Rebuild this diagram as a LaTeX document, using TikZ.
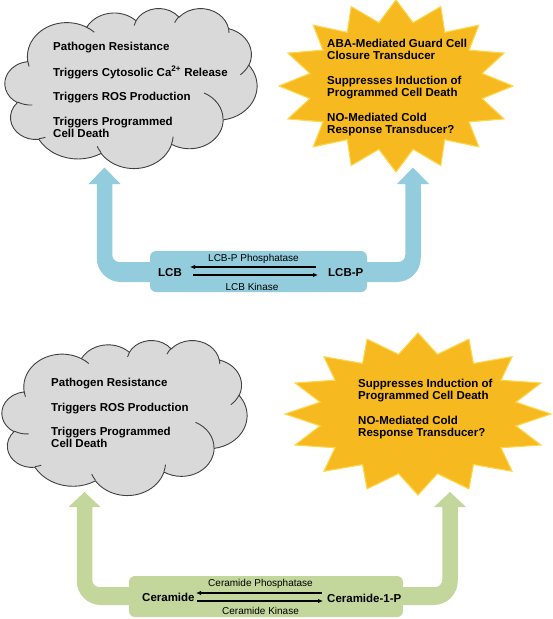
\documentclass[tikz,border=0pt]{standalone}
\usepackage{fontspec}
\setmainfont{Liberation Sans}
\usetikzlibrary{arrows.meta}
\definecolor{cloudfill}{HTML}{D9D9D9}
\definecolor{cloudline}{HTML}{404040}
\definecolor{starfill}{HTML}{F6B91F}
\definecolor{starline}{HTML}{FFD64A}
\definecolor{bluearrow}{HTML}{93CDDD}
\definecolor{greenarrow}{HTML}{C3D69B}

% PowerPoint-like cloud outline (43200 space / 100), angles converted from visual to parametric
\gdef\cloudmain{}
\foreach \Aw/\Ah/\As/\Ad in {67.53/91.90/-190.4875/123.7805, 53.33/72.67/-144.1024/89.9452,
  43.65/59.45/-145.8079/99.7230, 48.57/65.95/-130.9861/117.2417, 53.33/72.73/-78.7089/109.0269,
  67.75/92.20/-46.2673/130.2690, 57.85/78.67/0.6250/114.0333, 67.52/92.15/22.4516/115.1726,
  77.20/105.43/66.2426/75.7110, 43.60/59.18/-274.9421/146.7356, 43.45/59.45/-246.8285/152.5189}{%
  \pgfmathsetmacro\CAa{atan2(\Aw*sin(\As),\Ah*cos(\As))}%
  \pgfmathsetmacro\CAb{atan2(\Aw*sin(\As+\Ad),\Ah*cos(\As+\Ad))}%
  \pgfmathsetmacro\CAd{\CAb-\CAa}%
  \pgfmathsetmacro\CAd{ifthenelse(\Ad>0,ifthenelse(\CAd<0,\CAd+360,\CAd),ifthenelse(\CAd>0,\CAd-360,\CAd))}%
  \xdef\cloudmain{\cloudmain arc[start angle=\CAa, delta angle=\CAd, x radius=\Aw pt, y radius=\Ah pt]}%
}
\gdef\cloudinner{}
\foreach \Ax/\Ay/\Aw/\Ah/\As/\Ad in {46.93/261.77/43.45/59.45/86.7420/26.4295,
  69.28/348.99/43.60/59.18/73.6105/11.4475, 164.78/390.90/67.52/92.15/137.6242/14.0811,
  288.27/347.51/67.52/92.15/6.4533/15.9984, 341.29/229.54/57.85/78.67/-70.2924/70.9174,
  417.98/153.54/53.33/72.73/30.3180/27.7515, 383.24/54.26/48.57/65.95/-13.7443/14.8589,
  290.78/39.52/48.57/65.95/-149.1815/18.1954, 221.41/47.20/43.65/59.45/-163.4943/16.9591,
  140.00/51.92/67.53/91.90/-66.7070/12.3194, 41.27/157.89/67.53/91.90/157.6544/11.8582}{%
  \pgfmathsetmacro\CAa{atan2(\Aw*sin(\As),\Ah*cos(\As))}%
  \pgfmathsetmacro\CAb{atan2(\Aw*sin(\As+\Ad),\Ah*cos(\As+\Ad))}%
  \pgfmathsetmacro\CAd{\CAb-\CAa}%
  \pgfmathsetmacro\CAd{ifthenelse(\Ad>0,ifthenelse(\CAd<0,\CAd+360,\CAd),ifthenelse(\CAd>0,\CAd-360,\CAd))}%
  \xdef\cloudinner{\cloudinner (\Ax,\Ay) arc[start angle=\CAa, delta angle=\CAd, x radius=\Aw pt, y radius=\Ah pt]}%
}

% U-shaped block arrow: color, left x, right x, tip y, head base y, band top, band bottom
\newcommand\UArrow[7]{%
 \fill[#1] (#2,#4) -- ({#2+16},#5) -- ({#2+7.75},#5) -- ({#2+7.75},{#6-7})
   .. controls ({#2+7.75},{#6-3.15}) and ({#2+10.9},#6) .. ({#2+14.75},#6)
   -- ({#3-14.75},#6)
   .. controls ({#3-10.9},#6) and ({#3-7.75},{#6-3.15}) .. ({#3-7.75},{#6-7})
   -- ({#3-7.75},#5) -- ({#3-16},#5) -- (#3,#4) -- ({#3+16},#5) -- ({#3+7.75},#5)
   -- ({#3+7.75},{#7-24})
   .. controls ({#3+7.75},{#7-10.8}) and ({#3-3.05},#7) .. ({#3-16.25},#7)
   -- ({#2+16.25},#7)
   .. controls ({#2+3.05},#7) and ({#2-7.75},{#7-10.8}) .. ({#2-7.75},{#7-24})
   -- ({#2-7.75},#5) -- ({#2-16},#5) -- cycle;}

\tikzset{
  cloudshape/.style={fill=cloudfill, draw=cloudline, line width=0.9pt},
  cloudarcs/.style={draw=cloudline, line width=0.9pt},
  starshape/.style={fill=starfill, draw=starline, line width=1.1pt, line join=miter},
  bigtext/.style={font=\fontsize{11.5}{12}\selectfont\bfseries, align=left, anchor=north west, inner sep=0pt},
  boldlbl/.style={font=\fontsize{11.5}{12}\selectfont\bfseries, anchor=base west, inner sep=0pt},
  enzlbl/.style={font=\fontsize{10}{12}\selectfont, anchor=base, inner sep=0pt},
  rxnbox/.style={rectangle, rounded corners=6pt, inner sep=0pt},
  rxn/.style={line width=1.1pt, -{Latex[length=5pt,width=4.5pt]}},
}

\begin{document}
\begin{tikzpicture}[x=1pt,y=1pt,yscale=-1]
\useasboundingbox (0,0) rectangle (553,619);
\fill[white] (0,0) rectangle (553,619);

% ===== Top panel =====
\UArrow{bluearrow}{104.5}{413}{167.5}{184}{262}{282}
\node[rxnbox, fill=bluearrow, minimum width=217pt, minimum height=41pt] (lcbbox) at (258.5,271.5) {};

\begin{scope}[shift={(5,8)}, xscale=252/432, yscale=160/432]
  \filldraw[cloudshape] (39,143.7) \cloudmain -- cycle;
  \draw[cloudarcs] \cloudinner;
\end{scope}

\draw[starshape] plot[samples at={0,...,31}, variable=\k]
  ({396+117*(1-0.25*mod(\k,2))*cos(90+11.25*\k)}, {86+86*(1-0.25*mod(\k,2))*sin(90+11.25*\k)}) -- cycle;

\node[bigtext] (c1txt) at (53,42) {Pathogen Resistance\\[12.3pt]Triggers Cytosolic Ca\textsuperscript{2+} Release\\[12.3pt]Triggers ROS Production\\[12.5pt]Triggers Programmed\\Cell Death};
\node[bigtext] (s1txt) at (327,39) {ABA-Mediated Guard Cell\\Closure Transducer\\[13pt]Suppresses Induction of\\Programmed Cell Death\\[12.5pt]NO-Mediated Cold\\Response Transducer?};

\node[boldlbl] (lcb) at (158,276) {LCB};
\node[boldlbl] (lcbp) at (328,276) {LCB-P};
\node[enzlbl] (lcbpase) at (253.5,261.5) {LCB-P Phosphatase};
\node[enzlbl] (lcbk) at (252,290) {LCB Kinase};
\coordinate (t1s) at (316,267); \coordinate (t1e) at (190,267);
\coordinate (t2s) at (193,275); \coordinate (t2e) at (318,275);
\draw[rxn] (t1s) -- (t1e);
\draw[rxn] (t2s) -- (t2e);

% ===== Bottom panel =====
\UArrow{greenarrow}{84.5}{450}{492}{507}{587}{605}
\node[rxnbox, fill=greenarrow, minimum width=274pt, minimum height=41pt] (cerbox) at (266,596.5) {};

\begin{scope}[shift={(2,340)}, xscale=245/432, yscale=155/432]
  \filldraw[cloudshape] (39,143.7) \cloudmain -- cycle;
  \draw[cloudarcs] \cloudinner;
\end{scope}

\draw[starshape] plot[samples at={0,...,31}, variable=\k]
  ({418+133*(1-0.25*mod(\k,2))*cos(90+11.25*\k)}, {414+81*(1-0.25*mod(\k,2))*sin(90+11.25*\k)}) -- cycle;

\node[bigtext] (c2txt) at (51,378) {Pathogen Resistance\\[13pt]Triggers ROS Production\\[12pt]Triggers Programmed\\Cell Death};
\node[bigtext] (s2txt) at (358,379) {Suppresses Induction of\\Programmed Cell Death\\[13pt]NO-Mediated Cold\\Response Transducer?};

\node[boldlbl] (cer) at (142,601) {Ceramide};
\node[boldlbl] (cerp) at (327,602) {Ceramide-1-P};
\node[enzlbl] (cerpase) at (260.5,586) {Ceramide Phosphatase};
\node[enzlbl] (cerk) at (260.5,614) {Ceramide Kinase};
\coordinate (b1s) at (322,593); \coordinate (b1e) at (196,593);
\coordinate (b2s) at (197,601); \coordinate (b2e) at (323,601);
\draw[rxn] (b1s) -- (b1e);
\draw[rxn] (b2s) -- (b2e);
\end{tikzpicture}
\end{document}
